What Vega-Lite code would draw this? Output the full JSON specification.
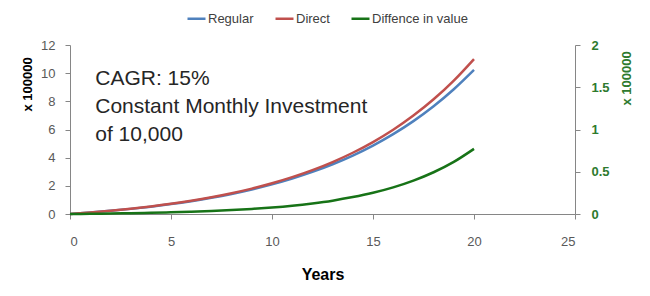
{
  "$schema": "https://vega.github.io/schema/vega-lite/v6.json",
  "width": 505,
  "height": 169,
  "autosize": {"type": "none"},
  "padding": {"left": 70, "top": 45, "right": 75, "bottom": 82},
  "background": "white",
  "config": {
    "font": "Liberation Sans",
    "view": {"stroke": null},
    "axis": {"grid": false, "labelOverlap": false, "domainColor": "#868686", "tickColor": "#868686", "labelColor": "#595959", "labelFont": "Liberation Sans", "labelFontSize": 13, "titleFont": "Liberation Sans"}
  },
  "datasets": {
    "series": [
      {"year": 0, "series": "Regular", "value": 0},
      {"year": 1, "series": "Regular", "value": 0.105},
      {"year": 2, "series": "Regular", "value": 0.226},
      {"year": 3, "series": "Regular", "value": 0.364},
      {"year": 4, "series": "Regular", "value": 0.522},
      {"year": 5, "series": "Regular", "value": 0.704},
      {"year": 6, "series": "Regular", "value": 0.913},
      {"year": 7, "series": "Regular", "value": 1.152},
      {"year": 8, "series": "Regular", "value": 1.427},
      {"year": 9, "series": "Regular", "value": 1.742},
      {"year": 10, "series": "Regular", "value": 2.103},
      {"year": 11, "series": "Regular", "value": 2.517},
      {"year": 12, "series": "Regular", "value": 2.989},
      {"year": 13, "series": "Regular", "value": 3.531},
      {"year": 14, "series": "Regular", "value": 4.149},
      {"year": 15, "series": "Regular", "value": 4.858},
      {"year": 16, "series": "Regular", "value": 5.668},
      {"year": 17, "series": "Regular", "value": 6.593},
      {"year": 18, "series": "Regular", "value": 7.649},
      {"year": 19, "series": "Regular", "value": 8.855},
      {"year": 20, "series": "Regular", "value": 10.229},
      {"year": 0, "series": "Direct", "value": 0},
      {"year": 1, "series": "Direct", "value": 0.107},
      {"year": 2, "series": "Direct", "value": 0.231},
      {"year": 3, "series": "Direct", "value": 0.373},
      {"year": 4, "series": "Direct", "value": 0.536},
      {"year": 5, "series": "Direct", "value": 0.724},
      {"year": 6, "series": "Direct", "value": 0.94},
      {"year": 7, "series": "Direct", "value": 1.188},
      {"year": 8, "series": "Direct", "value": 1.474},
      {"year": 9, "series": "Direct", "value": 1.802},
      {"year": 10, "series": "Direct", "value": 2.18},
      {"year": 11, "series": "Direct", "value": 2.615},
      {"year": 12, "series": "Direct", "value": 3.114},
      {"year": 13, "series": "Direct", "value": 3.689},
      {"year": 14, "series": "Direct", "value": 4.349},
      {"year": 15, "series": "Direct", "value": 5.109},
      {"year": 16, "series": "Direct", "value": 5.983},
      {"year": 17, "series": "Direct", "value": 6.988},
      {"year": 18, "series": "Direct", "value": 8.143},
      {"year": 19, "series": "Direct", "value": 9.472},
      {"year": 20, "series": "Direct", "value": 11.0},
      {"year": 0, "series": "Diffence in value", "value": 0},
      {"year": 1, "series": "Diffence in value", "value": 0.0024},
      {"year": 2, "series": "Diffence in value", "value": 0.0054},
      {"year": 3, "series": "Diffence in value", "value": 0.0091},
      {"year": 4, "series": "Diffence in value", "value": 0.0137},
      {"year": 5, "series": "Diffence in value", "value": 0.0195},
      {"year": 6, "series": "Diffence in value", "value": 0.0267},
      {"year": 7, "series": "Diffence in value", "value": 0.0356},
      {"year": 8, "series": "Diffence in value", "value": 0.0467},
      {"year": 9, "series": "Diffence in value", "value": 0.0605},
      {"year": 10, "series": "Diffence in value", "value": 0.077},
      {"year": 11, "series": "Diffence in value", "value": 0.098},
      {"year": 12, "series": "Diffence in value", "value": 0.125},
      {"year": 13, "series": "Diffence in value", "value": 0.158},
      {"year": 14, "series": "Diffence in value", "value": 0.2},
      {"year": 15, "series": "Diffence in value", "value": 0.251},
      {"year": 16, "series": "Diffence in value", "value": 0.315},
      {"year": 17, "series": "Diffence in value", "value": 0.395},
      {"year": 18, "series": "Diffence in value", "value": 0.494},
      {"year": 19, "series": "Diffence in value", "value": 0.617},
      {"year": 20, "series": "Diffence in value", "value": 0.771}
    ],
    "note": [
      {"year": 1.25, "value": 9.15, "text": "CAGR: 15%\nConstant Monthly Investment\nof 10,000"}
    ]
  },
  "layer": [
    {
      "layer": [
        {
          "data": {"name": "series"},
          "transform": [{"filter": "datum.series !== 'Diffence in value'"}],
          "mark": {"type": "line", "strokeWidth": 2.5, "interpolate": "monotone"},
          "encoding": {
            "x": {"field": "year", "type": "quantitative", "scale": {"domain": [0, 25], "nice": false, "zero": true},
                  "axis": {"values": [0, 5, 10, 15, 20, 25], "tickSize": 5, "labelPadding": 16, "labelFontSize": 13, "title": "Years", "titleFontSize": 16, "titleFontWeight": "bold", "titleColor": "#000000", "titleY": 65, "titleBaseline": "alphabetic"}},
            "y": {"field": "value", "type": "quantitative", "scale": {"domain": [0, 12], "nice": false},
                  "axis": {"values": [0, 2, 4, 6, 8, 10, 12], "orient": "left", "tickSize": 5, "labelPadding": 10, "title": "x 100000", "titleFontSize": 13, "titleFontWeight": "bold", "titleColor": "#000000", "titleAngle": 270, "titleX": -36, "titleY": 66, "titleAlign": "left", "titleBaseline": "bottom"}},
            "color": {"field": "series", "type": "nominal",
                      "scale": {"domain": ["Regular", "Direct", "Diffence in value"], "range": ["#4F81BD", "#C0504D", "#177317"]},
                      "legend": {"title": null, "orient": "none", "legendX": 116, "legendY": -37, "direction": "horizontal", "symbolType": "stroke", "symbolSize": 324, "symbolStrokeWidth": 2.5, "labelFontSize": 13, "labelColor": "#404040", "labelOffset": 1, "columnPadding": 16, "labelFont": "Liberation Sans"}}
          }
        },
        {
          "data": {"name": "note"},
          "mark": {"type": "text", "align": "left", "baseline": "alphabetic", "fontSize": 21, "lineHeight": 28, "lineBreak": "\n", "color": "#262626", "font": "Liberation Sans"},
          "encoding": {
            "x": {"field": "year", "type": "quantitative",
                  "axis": {"values": [0, 5, 10, 15, 20, 25], "tickSize": 5, "labelPadding": 16, "labelFontSize": 13, "title": "Years", "titleFontSize": 16, "titleFontWeight": "bold", "titleColor": "#000000", "titleY": 65, "titleBaseline": "alphabetic"}},
            "y": {"field": "value", "type": "quantitative",
                  "axis": {"values": [0, 2, 4, 6, 8, 10, 12], "orient": "left", "tickSize": 5, "labelPadding": 10, "title": "x 100000", "titleFontSize": 13, "titleFontWeight": "bold", "titleColor": "#000000", "titleAngle": 270, "titleX": -36, "titleY": 66, "titleAlign": "left", "titleBaseline": "bottom"}},
            "text": {"field": "text"}
          }
        }
      ]
    },
    {
      "data": {"name": "series"},
      "transform": [{"filter": "datum.series === 'Diffence in value'"}],
      "mark": {"type": "line", "strokeWidth": 2.5, "interpolate": "monotone"},
      "encoding": {
        "x": {"field": "year", "type": "quantitative",
              "axis": {"values": [0, 5, 10, 15, 20, 25], "tickSize": 5, "labelPadding": 16, "labelFontSize": 13, "title": "Years", "titleFontSize": 16, "titleFontWeight": "bold", "titleColor": "#000000", "titleY": 65, "titleBaseline": "alphabetic"}},
        "y": {"field": "value", "type": "quantitative", "scale": {"domain": [0, 2], "nice": false},
              "axis": {"values": [0, 0.5, 1, 1.5, 2], "format": "~g", "orient": "right", "tickSize": 5, "labelPadding": 11, "labelColor": "#2E7A2E", "labelFontWeight": "bold", "title": "x 100000", "titleFontSize": 13, "titleFontWeight": "bold", "titleColor": "#2E7A2E", "titleAngle": 270, "titleX": 58, "titleY": 60, "titleAlign": "left", "titleBaseline": "bottom"}},
        "color": {"field": "series", "type": "nominal"}
      }
    }
  ],
  "resolve": {"scale": {"y": "independent"}}
}
